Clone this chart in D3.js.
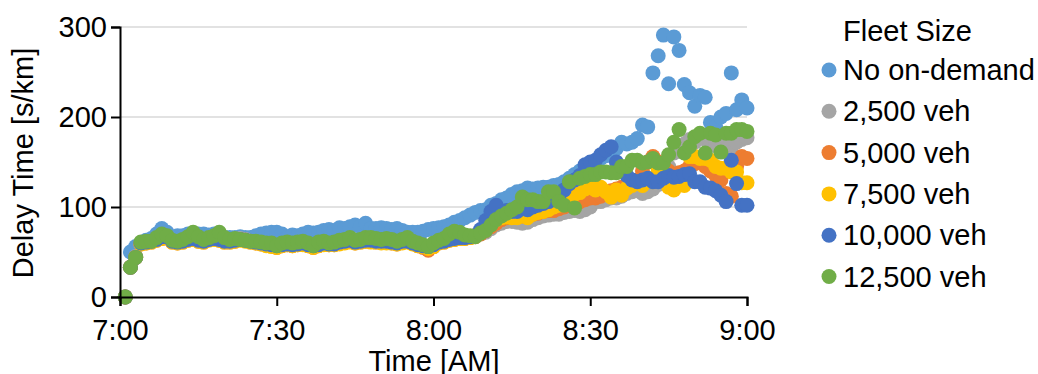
<!DOCTYPE html>
<html>
<head>
<meta charset="utf-8">
<script src="https://cdn.jsdelivr.net/npm/d3@7"></script>
<style>
  body { margin: 0; background: #fff; }
  svg { display: block; font-family: "Liberation Sans", Arial, sans-serif; }
</style>
</head>
<body>
<div id="chart"></div>
<script>
const WIDTH = 1038;
const HEIGHT = 374;
const FONT = "29px";

// minutes after 7:00, one reading per minute
const minutes = d3.range(1, 121);

const seriesNames = ["No on-demand", "2,500 veh", "5,000 veh", "7,500 veh", "10,000 veh", "12,500 veh"];
const seriesColors = ["#5B9BD5", "#A5A5A5", "#ED7D31", "#FFC000", "#4472C4", "#70AD47"];

const xTickValues = [0, 30, 60, 90, 120];
const xTickLabels = ["7:00", "7:30", "8:00", "8:30", "9:00"];
const yTickValues = [0, 100, 200, 300];

const noOnDemand = [
  0, 50, 56, 60, 63, 65, 70, 76, 72, 66,
  68, 68, 70, 70, 70, 70, 69, 70, 68, 66,
  66, 66, 67, 66, 66, 68, 70, 71, 72, 72,
  70, 66, 69, 68, 70, 72, 71, 72, 74, 75,
  74, 77, 76, 78, 80, 78, 82, 76, 76, 77,
  76, 75, 76, 74, 72, 72, 72, 73, 75, 76,
  77, 78, 80, 83, 85, 88, 91, 94, 96, 97,
  102, 104, 108, 110, 114, 117, 118, 121, 120, 121,
  122, 122, 124, 125, 128, 132, 136, 140, 143, 146,
  149, 154, 157, 160, 165, 172, 170, 172, 176, 191,
  189, 249, 268, 291, 237, 289, 274, 236, 227, 212,
  224, 222, 194, 189, 200, 204, 249, 208, 219, 210
];

const fleet2500 = [
  0, 33, 45, 60, 61, 62, 64, 66, 67, 62,
  61, 62, 64, 65, 63, 62, 65, 66, 64, 62,
  62, 63, 65, 64, 62, 61, 60, 59, 58, 56,
  58, 59, 58, 59, 60, 58, 56, 58, 60, 59,
  59, 61, 62, 63, 61, 62, 63, 63, 62, 62,
  62, 61, 60, 62, 63, 61, 58, 57, 55, 58,
  61, 62, 64, 65, 66, 66, 67, 68, 70, 72,
  76, 80, 82, 84, 84, 83, 82, 83, 86, 88,
  90, 91, 92, 92, 94, 95, 96, 95, 97, 100,
  106, 106, 108, 110, 110, 112, 115, 117, 118, 115,
  117, 120, 125, 135, 145, 160, 168, 170, 175, 172,
  180, 175, 170, 168, 165, 170, 161, 172, 175, 177
];

const fleet5000 = [
  0, 33, 44, 59, 60, 61, 63, 65, 66, 61,
  60, 61, 63, 64, 62, 61, 64, 65, 63, 61,
  61, 62, 64, 63, 61, 60, 59, 58, 57, 55,
  57, 58, 57, 58, 59, 57, 55, 57, 59, 58,
  58, 60, 61, 62, 60, 61, 62, 62, 61, 61,
  61, 60, 59, 61, 62, 60, 57, 55, 52, 56,
  60, 61, 63, 64, 65, 65, 66, 67, 70, 74,
  78, 82, 86, 88, 90, 90, 90, 91, 92, 93,
  95, 96, 96, 98, 100, 103, 105, 106, 108, 110,
  110, 112, 115, 118, 120, 122, 125, 128, 130, 140,
  150, 156, 150, 146, 140, 135, 138, 140, 145, 148,
  150, 145, 140, 135, 130, 115, 112, 145, 156, 154
];

const fleet7500 = [
  0, 33, 44, 59, 60, 61, 63, 65, 66, 61,
  60, 61, 63, 64, 62, 61, 63, 64, 63, 61,
  61, 62, 63, 62, 61, 60, 59, 57, 56, 55,
  57, 58, 57, 58, 58, 57, 55, 57, 58, 58,
  58, 59, 60, 61, 60, 61, 62, 61, 61, 60,
  60, 60, 59, 60, 61, 59, 57, 56, 54, 56,
  60, 61, 63, 64, 65, 65, 66, 68, 72, 78,
  84, 86, 88, 89, 88, 88, 90, 88, 92, 94,
  95, 97, 100, 102, 106, 110, 114, 116, 120, 124,
  119, 122, 117, 111, 119, 113, 121, 124, 126, 124,
  132, 128, 141, 130, 122, 119, 127, 124, 156, 156,
  154, 154, 152, 145, 143, 143, 139, 139, 127, 127
];

const fleet10000 = [
  0, 33, 44, 60, 61, 62, 64, 67, 67, 62,
  61, 62, 64, 65, 63, 62, 64, 65, 64, 62,
  62, 63, 64, 63, 62, 61, 60, 59, 58, 57,
  58, 59, 58, 59, 60, 58, 57, 58, 60, 59,
  59, 61, 62, 63, 61, 62, 63, 63, 62, 62,
  62, 61, 60, 62, 62, 60, 58, 57, 56, 58,
  61, 62, 64, 65, 66, 66, 67, 68, 75, 85,
  95, 102, 92, 96, 95, 95, 98, 97, 100, 102,
  104, 106, 108, 112, 119, 126, 130, 135, 147, 150,
  152, 158, 163, 167, 150, 140, 135, 130, 128, 130,
  132, 128, 128, 132, 135, 133, 134, 136, 137, 128,
  128, 122, 121, 118, 113, 106, 152, 126, 102, 102
];

const fleet12500 = [
  0, 33, 44, 61, 62, 62, 66, 70, 68, 63,
  62, 64, 67, 72, 67, 64, 66, 68, 72, 66,
  64, 65, 64, 63, 62, 62, 61, 60, 60, 57,
  60, 61, 60, 61, 62, 60, 57, 61, 62, 60,
  61, 63, 64, 66, 63, 64, 66, 66, 65, 64,
  65, 64, 62, 64, 66, 62, 60, 58, 56, 60,
  63, 65, 70, 73, 72, 69, 68, 67, 71, 74,
  80, 86, 90, 93, 97, 100, 111, 108, 108, 106,
  106, 117, 117, 106, 102, 128, 99, 132, 134, 136,
  136, 139, 139, 138, 138, 145, 145, 152, 152, 149,
  150, 154, 149, 149, 158, 172, 186, 160, 167, 178,
  182, 160, 182, 180, 161, 182, 182, 186, 186, 184
];

const seriesValues = [noOnDemand, fleet2500, fleet5000, fleet7500, fleet10000, fleet12500];

const svg = d3.select("#chart")
  .append("svg")
  .attr("width", WIDTH)
  .attr("height", HEIGHT);

const X_SCALE = d3.scaleLinear().domain([0, 120]).range([120, 747]);
const Y_SCALE = d3.scaleLinear().domain([0, 300]).range([297, 27]);

// gridlines
svg.append("g")
  .selectAll("line")
  .data(yTickValues.filter(d => d > 0))
  .enter()
  .append("line")
    .attr("x1", X_SCALE(0))
    .attr("x2", X_SCALE(120))
    .attr("y1", d => Y_SCALE(d))
    .attr("y2", d => Y_SCALE(d))
    .attr("stroke", "#D9D9D9")
    .attr("stroke-width", 1.5);

// points, first series at the bottom
seriesValues.forEach((values, i) => {
  svg.append("g")
    .selectAll("circle")
    .data(values)
    .enter()
    .append("circle")
      .attr("cx", (d, j) => X_SCALE(minutes[j]))
      .attr("cy", d => Y_SCALE(d))
      .attr("r", 7.5)
      .attr("fill", seriesColors[i]);
});

// axes
const xAxis = svg.append("g")
  .attr("transform", "translate(0," + Y_SCALE(0) + ")")
  .call(d3.axisBottom(X_SCALE)
    .tickValues(xTickValues)
    .tickFormat((d, i) => xTickLabels[i])
    .tickSizeOuter(0)
    .tickSize(9)
    .tickPadding(13));

const yAxis = svg.append("g")
  .attr("transform", "translate(" + X_SCALE(0) + ",0)")
  .call(d3.axisLeft(Y_SCALE)
    .tickValues(yTickValues)
    .tickFormat(d3.format("d"))
    .tickSizeOuter(0)
    .tickSize(9)
    .tickPadding(4));

[xAxis, yAxis].forEach(ax => {
  ax.select(".domain").attr("stroke", "#000").attr("stroke-width", 2);
  ax.selectAll(".tick line").attr("stroke", "#000").attr("stroke-width", 2);
  ax.selectAll(".tick text")
    .attr("fill", "#000")
    .style("font-size", FONT)
    .style("font-family", "'Liberation Sans', Arial, sans-serif");
});

// axis titles
svg.append("text")
  .attr("x", 434)
  .attr("y", 371)
  .attr("text-anchor", "middle")
  .style("font-size", FONT)
  .text("Time [AM]");

svg.append("text")
  .attr("transform", "translate(33,163) rotate(-90)")
  .attr("text-anchor", "middle")
  .style("font-size", FONT)
  .text("Delay Time [s/km]");

// legend
const legend = svg.append("g");

legend.append("text")
  .attr("x", 843)
  .attr("y", 41)
  .style("font-size", FONT)
  .text("Fleet Size");

const items = legend.selectAll("g.item")
  .data(seriesNames)
  .enter()
  .append("g")
    .attr("class", "item")
    .attr("transform", (d, i) => "translate(0," + (70 + i * 41.3) + ")");

items.append("circle")
  .attr("cx", 829)
  .attr("cy", 0)
  .attr("r", 7.5)
  .attr("fill", (d, i) => seriesColors[i]);

items.append("text")
  .attr("x", 843)
  .attr("y", 0)
  .attr("dy", "0.35em")
  .style("font-size", FONT)
  .text(d => d);
</script>
</body>
</html>
